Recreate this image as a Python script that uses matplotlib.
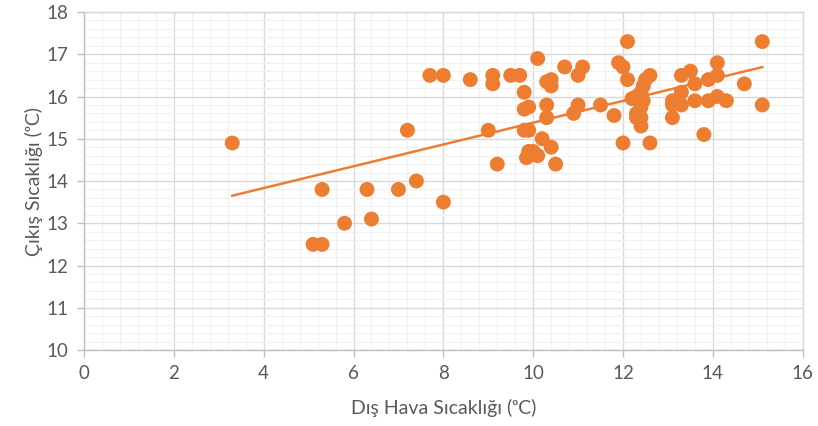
import numpy as np
import matplotlib
matplotlib.use("Agg")
import matplotlib.pyplot as plt
from matplotlib.ticker import MultipleLocator

plt.rcParams['font.family'] = ['Lato', 'DejaVu Sans']

dis_hava = [3.3, 5.1, 5.3, 5.3, 5.8, 6.3, 6.4, 7.0, 7.2, 7.4,
            7.7, 8.0, 8.0, 8.6, 9.0, 9.1, 9.1, 9.2, 9.5, 9.7,
            9.8, 9.8, 9.9, 9.8, 9.9, 9.9, 10.0, 9.85, 10.1, 10.2,
            10.4, 10.5, 10.1, 10.3, 10.3, 10.3, 10.4, 10.4, 10.7, 10.9,
            11.0, 11.1, 11.0, 11.5, 11.8, 11.9, 12.0, 12.0, 12.1, 12.1,
            12.2, 12.3, 12.4, 12.45, 12.5, 12.6, 12.45, 12.4, 12.3, 12.3,
            12.4, 12.4, 12.6, 13.1, 13.1, 13.1, 13.3, 13.3, 13.3, 13.5,
            13.6, 13.6, 13.8, 13.9, 13.9, 14.1, 14.1, 14.1, 14.3, 14.7,
            15.1, 15.1]
cikis = [14.9, 12.5, 12.5, 13.8, 13.0, 13.8, 13.1, 13.8, 15.2, 14.0,
         16.5, 16.5, 13.5, 16.4, 15.2, 16.5, 16.3, 14.4, 16.5, 16.5,
         16.1, 15.7, 15.75, 15.2, 15.2, 14.7, 14.7, 14.55, 14.6, 15.0,
         14.8, 14.4, 16.9, 16.35, 15.8, 15.5, 16.4, 16.25, 16.7, 15.6,
         15.8, 16.7, 16.5, 15.8, 15.55, 16.8, 16.7, 14.9, 17.3, 16.4,
         15.95, 16.0, 16.1, 16.25, 16.4, 16.5, 15.9, 15.75, 15.6, 15.5,
         15.5, 15.3, 14.9, 15.5, 15.9, 15.8, 15.8, 16.1, 16.5, 16.6,
         16.3, 15.9, 15.1, 16.4, 15.9, 16.5, 16.8, 16.0, 15.9, 16.3,
         17.3, 15.8]

x = np.array(dis_hava)
y = np.array(cikis)
slope, intercept = np.polyfit(x, y, 1)
xt = np.array([x.min(), x.max()])
yt = slope * xt + intercept

orange = '#ED7D31'
gray_txt = '#595959'

fig = plt.figure(figsize=(8.18, 4.26), dpi=100)
ax = fig.add_axes([0.1027, 0.1784, 0.8786, 0.7934])

ax.set_xlim(0, 16)
ax.set_ylim(10, 18)
ax.xaxis.set_major_locator(MultipleLocator(2))
ax.yaxis.set_major_locator(MultipleLocator(1))
ax.xaxis.set_minor_locator(MultipleLocator(0.4))
ax.yaxis.set_minor_locator(MultipleLocator(0.2))
ax.grid(which='major', color='#D9D9D9', linewidth=1.0, zorder=0)
ax.grid(which='minor', color='#F0F0F0', linewidth=0.8, zorder=0)
ax.set_axisbelow(True)

ax.scatter(x, y, s=115, color=orange, edgecolors='none', zorder=3)
ax.plot(xt, yt, color=orange, linewidth=1.8, zorder=4)

for side in ['top', 'right']:
    ax.spines[side].set_color('#D9D9D9')
    ax.spines[side].set_linewidth(1.0)
for side in ['left', 'bottom']:
    ax.spines[side].set_color('#BFBFBF')
    ax.spines[side].set_linewidth(1.0)

ax.tick_params(which='major', direction='out', length=5, width=1, color='#BFBFBF',
               labelsize=13.5, labelcolor=gray_txt, pad=6)
ax.tick_params(which='minor', length=0)

ax.set_xlabel('Dış Hava Sıcaklığı (ᵒC)', fontsize=14, color=gray_txt, labelpad=12)
ax.set_ylabel('Çıkış Sıcaklığı (ᵒC)', fontsize=14, color=gray_txt, labelpad=3)

fig.savefig('out.png', dpi=100)
